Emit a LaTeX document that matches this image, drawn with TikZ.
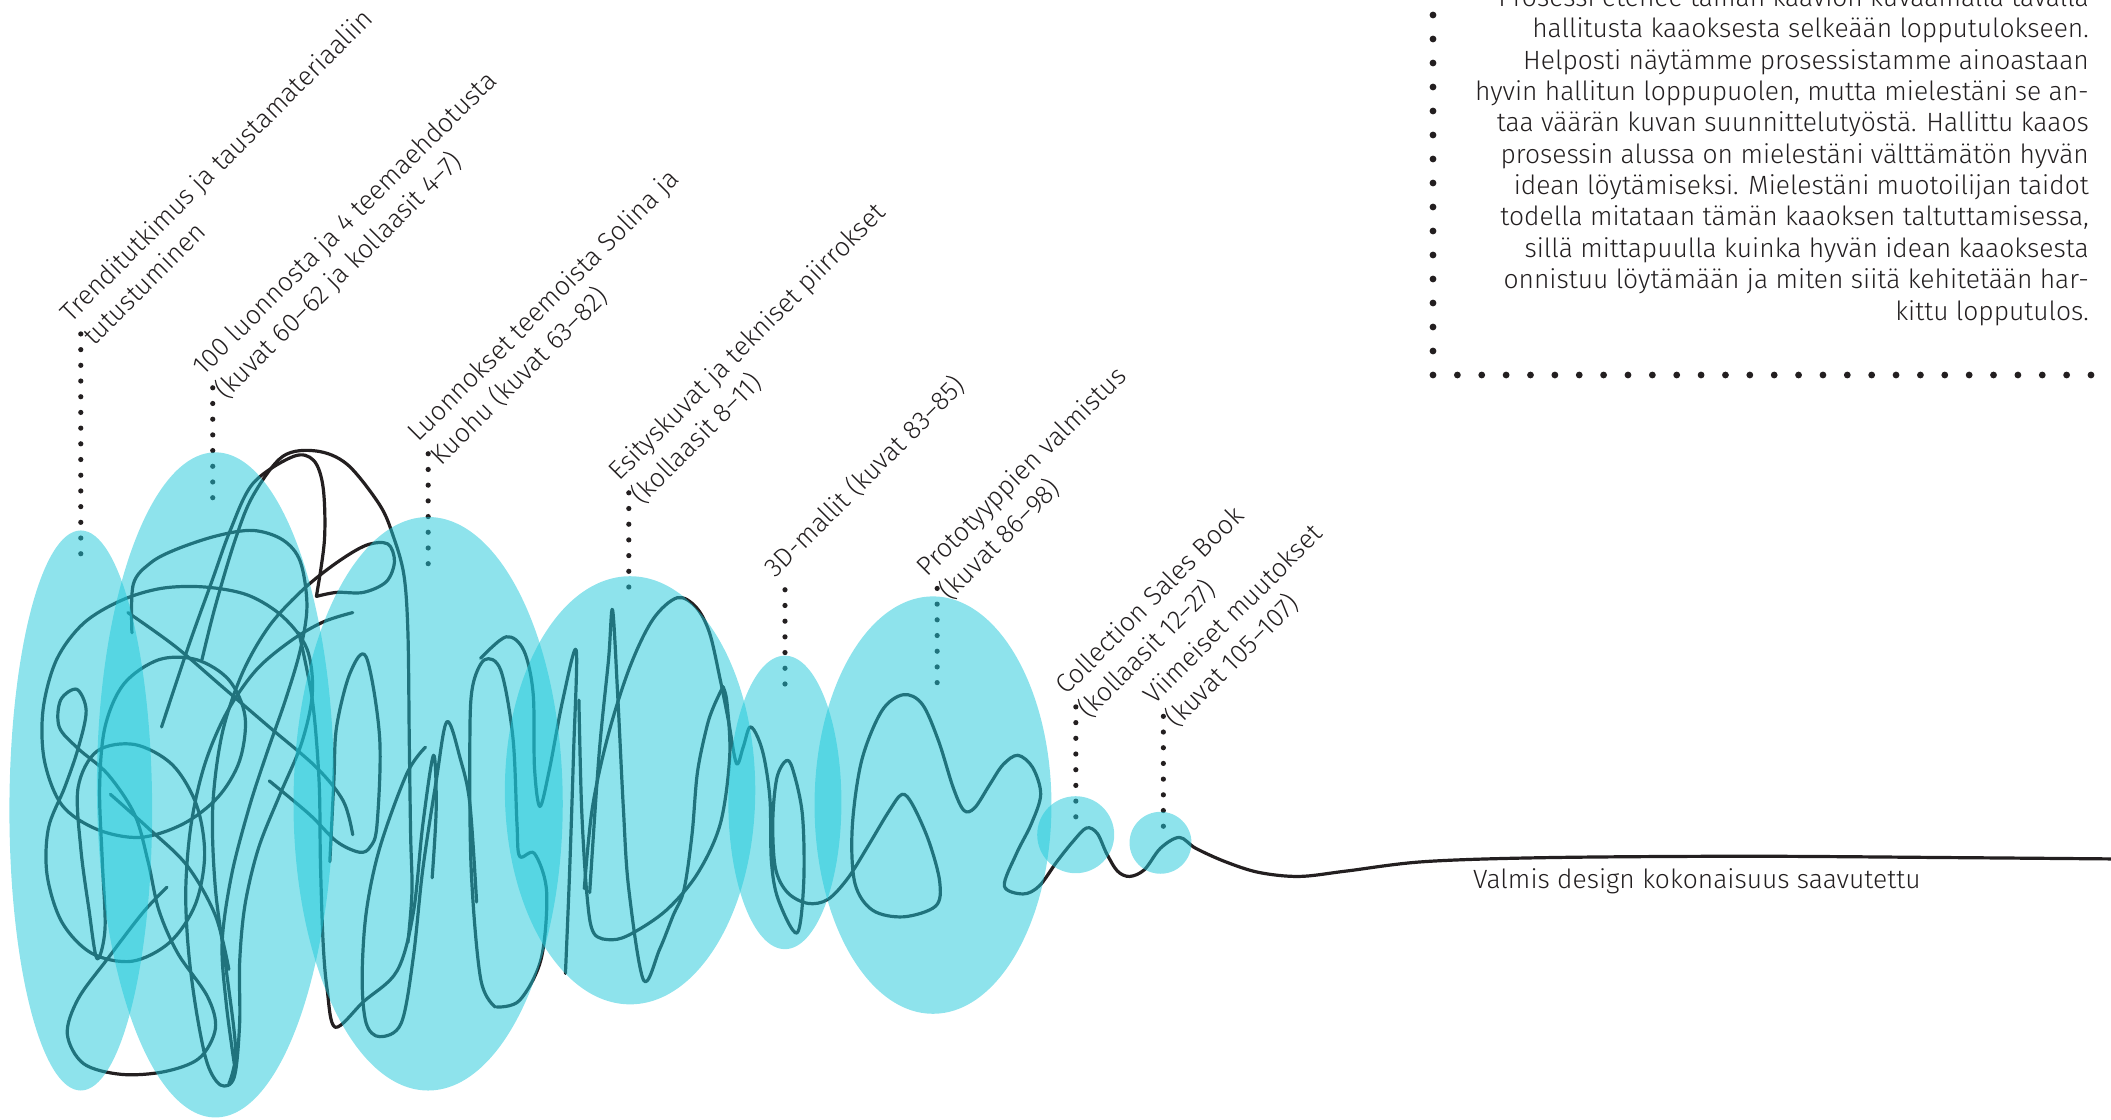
\documentclass[tikz,border=0pt]{standalone}
\usepackage{fontspec}
\setmainfont{Fira Sans}[UprightFont=* Light]
\definecolor{cyanb}{RGB}{30,200,218}
\definecolor{ink}{RGB}{35,31,32}
\begin{document}
\begin{tikzpicture}[x=1pt,y=-1pt,
  blob/.style={fill=cyanb, fill opacity=0.5},
  scrib/.style={draw=ink, line width=3.2pt, line cap=round, line join=round},
  leader/.style={draw=ink, line width=5.2pt, line cap=round, dash pattern=on 0pt off 15.7pt},
  lbl/.style={rotate=45, anchor=base west, inner sep=0pt, font=\fontsize{26.4}{31.4}\selectfont, text=ink},
  txt/.style={inner sep=0pt, font=\fontsize{26.4}{31.4}\selectfont, text=ink}]
\useasboundingbox (0,0) rectangle (2111,1119);
\clip (0,0) rectangle (2111,1119);

% ---------- paragraph with dotted frame ----------
\foreach \k in {0,...,15} \fill[ink] (1433,375-24*\k) circle (3.4);
\foreach \k in {1,...,27} \fill[ink] (1433+24.37*\k,375) circle (3.4);
\node[txt,anchor=base east] (p0) at (2089,6.5) {Prosessi etenee tämän kaavion kuvaamalla tavalla};
\node[txt,anchor=base east] (p1) at (2089,37.85) {hallitusta kaaoksesta selkeään lopputulokseen.};
\node[txt,anchor=base east] (p2) at (2089,69.2) {Helposti näytämme prosessistamme ainoastaan};
\node[txt,anchor=base east] (p3) at (2089,100.55) {hyvin hallitun loppupuolen, mutta mielestäni se an-};
\node[txt,anchor=base east] (p4) at (2089,131.9) {taa väärän kuvan suunnittelutyöstä. Hallittu kaaos};
\node[txt,anchor=base east] (p5) at (2089,163.25) {prosessin alussa on mielestäni välttämätön hyvän};
\node[txt,anchor=base east] (p6) at (2089,194.6) {idean löytämiseksi. Mielestäni muotoilijan taidot};
\node[txt,anchor=base east] (p7) at (2089,225.95) {todella mitataan tämän kaaoksen taltuttamisessa,};
\node[txt,anchor=base east] (p8) at (2089,257.3) {sillä mittapuulla kuinka hyvän idean kaaoksesta};
\node[txt,anchor=base east] (p9) at (2089,288.65) {onnistuu löytämään ja miten siitä kehitetään har-};
\node[txt,anchor=base east] (p10) at (2089,320) {kittu lopputulos.};

\node[txt,anchor=base west] (fin) at (1473,888) {Valmis design kokonaisuus saavutettu};

\begin{scope}[scale=1.3463]
% ---------- scribble ----------
\draw[scrib] plot[smooth,tension=0.55] coordinates {(124,659) (106,678) (80,712) (58,742) (50,768) (62,790) (90,798) (122,796) (148,786) (160,764) (154,740) (132,708) (118,676) (110,640) (100,605) (80,575) (58,556) (44,540) (45,520) (57,512) (64,528) (58,556) (48,585) (36,615) (35,650) (46,685) (68,708) (98,714) (126,700) (145,672) (152,635) (146,598) (128,568) (100,553) (72,558) (58,585) (60,630) (66,675) (72,712) (78,690) (76,640) (74,585) (78,540) (92,508) (118,490) (146,490) (170,505) (182,532) (178,565) (162,592) (136,612) (104,622) (72,616) (46,598) (33,565) (32,527) (42,490) (62,463) (90,446) (120,437) (152,436) (184,442) (210,458) (228,482) (232,515) (224,552) (208,590) (192,630) (182,672) (178,715) (178,760) (174,800) (164,806) (154,790) (146,752) (140,706) (138,660) (142,612) (152,568) (168,530) (190,498) (216,476) (240,462) (262,455)};
\draw[scrib] plot[smooth,tension=0.55] coordinates {(98,470) (99,434) (112,418) (131,408) (161,398) (188,394) (210,401) (223,417) (228,450) (223,483) (212,520) (198,560) (185,600) (172,650) (165,700) (168,745) (174,790)};
\draw[scrib] plot[smooth,tension=0.55] coordinates {(95,455) (130,480) (165,510) (200,540) (235,570) (255,595) (262,620)};
\draw[scrib] plot[smooth,tension=0.55] coordinates {(82,590) (110,615) (139,643) (160,680) (170,720)};
\draw[scrib] plot[smooth,tension=0.55] coordinates {(120,540) (140,480) (158,430) (171,394) (188,359) (218,339) (233,342) (240,362) (241,401) (235,443)};
\draw[scrib] plot[smooth,tension=0.55] coordinates {(235,443) (250,440) (270,440) (287,432) (293,417) (288,404) (272,405) (250,418) (225,438) (200,465) (180,500) (165,545) (158,600) (160,660) (168,720) (175,780) (170,805)};
\draw[scrib] plot[smooth,tension=0.55] coordinates {(150,490) (160,450) (175,400) (188,368) (210,339) (235,335) (258,345) (282,375) (292,398) (300,427) (303,470) (304,550) (305,620) (306,662) (303,700)};
\draw[scrib] plot[smooth,tension=0.55] coordinates {(222,470) (232,520) (237,580) (238,640) (240,700) (243,735) (249,763) (270,744) (295,721) (307,678) (314,613) (322,561) (324,600) (321,652)};
\draw[scrib] plot[smooth,tension=0.55] coordinates {(354,670) (349,597) (342,564) (332,536) (324,580) (314,646) (307,711) (298,760) (282,770) (272,760) (269,727) (272,678) (282,630) (302,575) (316,555)};
\draw[scrib] plot[smooth,tension=0.55] coordinates {(200,580) (230,605) (250,625) (267,633) (275,629) (280,613) (282,548) (272,488) (260,500) (250,540) (248,580) (245,640)};
\draw[scrib] plot[smooth,tension=0.55] coordinates {(369,748) (386,743) (402,712) (406,662) (397,634) (386,636) (384,612) (381,548) (372,498) (360,490) (351,510) (349,550) (350,646) (357,727) (368,748)};
\draw[scrib] plot[smooth,tension=0.55] coordinates {(357,489) (376,473) (389,483) (396,515) (397,570) (401,599) (408,572) (418,520) (428,483) (426,560) (423,650) (420,723)};
\draw[scrib] plot[smooth,tension=0.55] coordinates {(438,663) (445,560) (452,490) (455,453) (459,520) (463,600) (467,660) (478,728) (490,705) (500,680) (508,661) (514,620) (518,574) (525,540) (530,525) (537,510)};
\draw[scrib] plot[smooth,tension=0.55] coordinates {(430,520) (432,600) (436,665) (441,693) (455,698) (470,693) (495,676) (518,649) (535,612) (542,562) (540,522) (537,510)};
\draw[scrib] plot[smooth,tension=0.55] coordinates {(434,660) (440,600) (452,545) (468,495) (485,460) (503,444) (517,451) (527,470) (535,505) (541,535) (547,567) (552,555) (557,540) (563,548) (568,565) (572,595) (573,640) (578,668) (592,693) (597,655) (596,605) (589,572) (584,565) (577,578) (574,610) (576,645) (585,663) (600,671) (615,668) (630,652) (645,628) (660,603) (670,590) (678,598) (690,625) (698,655) (695,673) (671,681) (648,676) (635,656) (633,615) (640,565) (655,528) (671,516) (685,523) (697,550) (708,585) (716,602) (724,600) (735,583) (745,568) (756,561) (767,570) (773,590) (766,612) (755,634) (746,658) (760,664) (772,658) (785,640) (797,625) (807,615) (815,619) (822,634) (830,647) (839,651) (850,646) (862,630) (876,622) (888,630) (910,640) (935,648) (965,651) (1000,647) (1058,640) (1150,637) (1300,636) (1450,637) (1570,638)};

% ---------- leaders ----------
\coordinate (t1) at (60,248);  \coordinate (b1) at (60,420);
\coordinate (t2) at (158,288); \coordinate (b2) at (158,370);
\coordinate (t3) at (318,337); \coordinate (b3) at (318,420);
\coordinate (t4) at (467,366); \coordinate (b4) at (467,447);
\coordinate (t5) at (583,438); \coordinate (b5) at (583,518);
\coordinate (t6) at (696,437); \coordinate (b6) at (696,518);
\coordinate (t7) at (799,525); \coordinate (b7) at (799,612);
\coordinate (t8) at (864,532); \coordinate (b8) at (864,614);
\foreach \i in {1,...,8} \draw[leader] (t\i) -- (b\i);

% ---------- blobs ----------
\fill[blob] (60,602) ellipse [x radius=53, y radius=208];
\fill[blob] (160,583) ellipse [x radius=88, y radius=247];
\fill[blob] (318,597) ellipse [x radius=100, y radius=213];
\fill[blob] (468,587) ellipse [x radius=93, y radius=159];
\fill[blob] (583,596) ellipse [x radius=42, y radius=109];
\fill[blob] (693,598) ellipse [x radius=88, y radius=155];
\fill[blob] (799,620) ellipse [x radius=28.6, y radius=28.6];
\fill[blob] (862,626) ellipse [x radius=23, y radius=23];

% ---------- labels ----------
\node[lbl] (l1a) at ([shift={(-7,-8)}]t1) {Trenditutkimus ja taustamateriaaliin};
\node[lbl] (l1b) at ([shift={(10,9.5)}]t1) {tutustuminen};
\node[lbl] (l2a) at ([shift={(-7,-8)}]t2) {100 luonnosta ja 4 teemaehdotusta};
\node[lbl] (l2b) at ([shift={(10,9.5)}]t2) {(kuvat 60–62 ja kollaasit 4–7)};
\node[lbl] (l3a) at ([shift={(-7,-8)}]t3) {Luonnokset teemoista Solina ja};
\node[lbl] (l3b) at ([shift={(10,9.5)}]t3) {Kuohu (kuvat 63–82)};
\node[lbl] (l4a) at ([shift={(-7,-8)}]t4) {Esityskuvat ja tekniset piirrokset};
\node[lbl] (l4b) at ([shift={(10,9.5)}]t4) {(kollaasit 8–11)};
\node[lbl] (l5a) at ([shift={(-7,-8)}]t5) {3D-mallit (kuvat 83–85)};
\node[lbl] (l6a) at ([shift={(-7,-8)}]t6) {Prototyyppien valmistus};
\node[lbl] (l6b) at ([shift={(10,9.5)}]t6) {(kuvat 86–98)};
\node[lbl] (l7a) at ([shift={(-7,-8)}]t7) {Collection Sales Book};
\node[lbl] (l7b) at ([shift={(10,9.5)}]t7) {(kollaasit 12–27)};
\node[lbl] (l8a) at ([shift={(-7,-8)}]t8) {Viimeiset muutokset};
\node[lbl] (l8b) at ([shift={(10,9.5)}]t8) {(kuvat 105–107)};
\end{scope}
\end{tikzpicture}
\end{document}
